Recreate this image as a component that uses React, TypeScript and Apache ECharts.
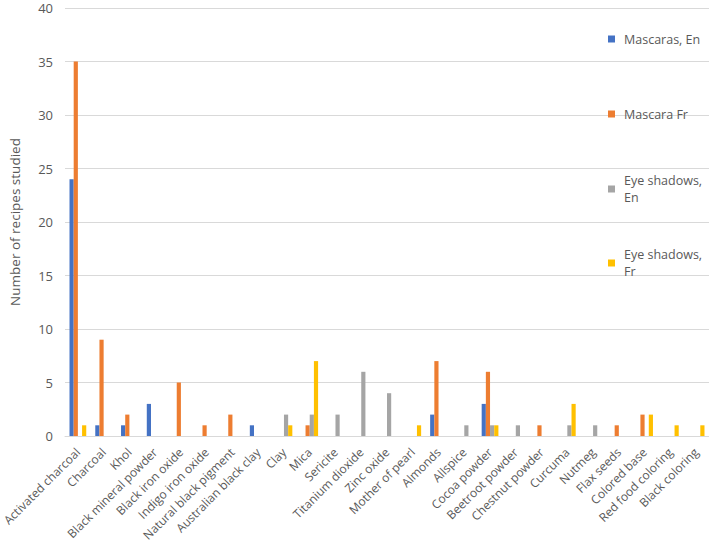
import React, { useEffect, useRef } from "react";
import * as echarts from "echarts";

const categories = [
  "Activated charcoal", "Charcoal", "Khol", "Black mineral powder", "Black iron oxide",
  "Indigo iron oxide", "Natural black pigment", "Australian black clay", "Clay", "Mica",
  "Sericite", "Titanium dioxide", "Zinc oxide", "Mother of pearl", "Almonds", "Allspice",
  "Cocoa powder", "Beetroot powder", "Chestnut powder", "Curcuma", "Nutmeg", "Flax seeds",
  "Colored base", "Red food coloring", "Black coloring",
];
const mascarasEn = [24, 1, 1, 3, 0, 0, 0, 1, 0, 0, 0, 0, 0, 0, 2, 0, 3, 0, 0, 0, 0, 0, 0, 0, 0];
const mascaraFr = [35, 9, 2, 0, 5, 1, 2, 0, 0, 1, 0, 0, 0, 0, 7, 0, 6, 0, 1, 0, 0, 1, 2, 0, 0];
const eyeShadowsEn = [0, 0, 0, 0, 0, 0, 0, 0, 2, 2, 2, 6, 4, 0, 0, 1, 1, 1, 0, 1, 1, 0, 0, 0, 0];
const eyeShadowsFr = [1, 0, 0, 0, 0, 0, 0, 0, 1, 7, 0, 0, 0, 1, 0, 0, 1, 0, 0, 3, 0, 0, 2, 1, 1];

const seriesNames = ["Mascaras, En", "Mascara Fr", "Eye shadows, En", "Eye shadows, Fr"];
const colors = ["#4472C4", "#ED7D31", "#A5A5A5", "#FFC000"];
const yTicks = { min: 0, max: 40, interval: 5 };

const FONT = "'Open Sans', sans-serif";
const TEXT = "#595959";

export default function App() {
  const ref = useRef<HTMLDivElement>(null);
  useEffect(() => {
    if (!ref.current) return;
    const chart = echarts.init(ref.current, null, { renderer: "svg" });
    const data = [mascarasEn, mascaraFr, eyeShadowsEn, eyeShadowsFr];
    const LH = 17;
    const iconCenters = [39, 114, 189, 263];
    const legends = seriesNames.map((name, i) => {
      const two = i >= 2;
      return {
        orient: "vertical",
        left: 608,
        top: two ? iconCenters[i] - (2 * LH + LH) / 2 : iconCenters[i] - LH / 2,
        padding: 0,
        icon: "rect",
        itemWidth: 7,
        itemHeight: 7,
        selectedMode: false,
        data: [name],
        formatter: (n: string) => n.replace("Eye shadows, ", "Eye shadows,\n"),
        textStyle: {
          color: TEXT,
          fontFamily: FONT,
          fontSize: 12.5,
          lineHeight: LH,
          padding: two ? [LH, 0, 0, 4] : [0, 0, 0, 4],
        },
      };
    });
    chart.setOption({
      animation: false,
      textStyle: { fontFamily: FONT },
      grid: { left: 65, right: 0, top: 8, bottom: 113, outerBoundsMode: "none", containLabel: false },
      legend: legends,
      xAxis: {
        type: "category",
        data: categories,
        axisLine: { lineStyle: { color: "#D9D9D9" } },
        axisTick: { show: false },
        axisLabel: {
          interval: 0,
          rotate: 45,
          margin: 14,
          color: TEXT,
          fontFamily: FONT,
          fontSize: 12,
        },
      },
      yAxis: {
        type: "value",
        min: yTicks.min,
        max: yTicks.max,
        interval: yTicks.interval,
        name: "Number of recipes studied",
        nameLocation: "middle",
        nameRotate: 90,
        nameGap: 43,
        nameTextStyle: { color: TEXT, fontFamily: FONT, fontSize: 13.5 },
        axisLine: { show: false },
        axisTick: { show: false },
        axisLabel: { color: TEXT, fontFamily: FONT, fontSize: 13, margin: 12 },
        splitLine: { lineStyle: { color: "#D9D9D9" } },
      },
      series: seriesNames.map((name, i) => ({
        name,
        type: "bar",
        data: data[i],
        itemStyle: { color: colors[i] },
        barGap: "0%",
        barCategoryGap: "35%",
      })),
    });
    return () => chart.dispose();
  }, []);
  return (
    <div
      ref={ref}
      style={{ position: "fixed", left: 0, top: 0, width: 709, height: 549, background: "#fff" }}
    />
  );
}
